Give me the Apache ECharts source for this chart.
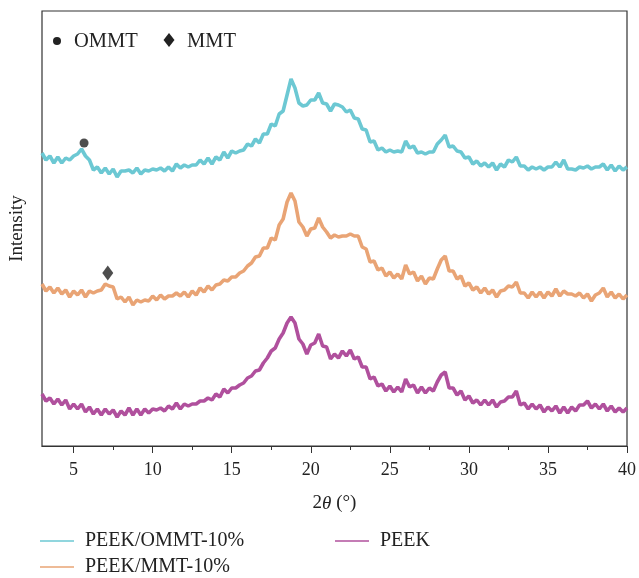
<!DOCTYPE html>
<html>
<head>
<meta charset="utf-8">
<script src="https://cdn.jsdelivr.net/npm/echarts@6/dist/echarts.min.js"></script>
<style>
  html, body { margin: 0; padding: 0; background: #fff; }
  #chart { width: 639px; height: 578px; }
</style>
</head>
<body>
<div id="chart"></div>
<script>
// 2-theta sampling grid (degrees)
const angleStart = 3;
const angleStep = 0.25;

// intensity (arbitrary units, offset stacked), one value per 0.25 deg from 3 to 40
const ommtValues = [
  293, 286, 290, 283, 289, 283, 288, 286, 290, 292, 297, 290,
  286, 276, 279, 273, 278, 272, 277, 269, 275, 275, 276, 273,
  278, 272, 276, 275, 277, 276, 278, 275, 279, 275, 282, 278,
  281, 279, 281, 281, 286, 282, 288, 282, 289, 286, 294, 288,
  295, 293, 295, 296, 302, 300, 307, 303, 312, 312, 322, 320,
  332, 335, 351, 367, 358, 343, 340, 341, 346, 346, 353, 343,
  342, 335, 342, 341, 339, 334, 336, 328, 327, 317, 316, 304,
  305, 296, 298, 294, 296, 294, 295, 294, 305, 298, 300, 293,
  294, 292, 294, 294, 302, 306, 311, 299, 300, 295, 294, 288,
  289, 282, 285, 280, 283, 279, 283, 276, 282, 279, 286, 284,
  289, 280, 280, 276, 279, 277, 279, 276, 279, 279, 284, 279,
  286, 277, 277, 276, 279, 278, 280, 277, 279, 279, 282, 276,
  281, 275, 280, 276, 279
];

const mmtValues = [
  162, 155, 159, 153, 158, 152, 156, 149, 155, 151, 156, 149,
  155, 153, 155, 156, 162, 160, 159, 147, 149, 144, 149, 141,
  146, 144, 146, 145, 150, 146, 151, 147, 150, 150, 153, 150,
  154, 149, 155, 151, 158, 154, 160, 156, 161, 162, 166, 165,
  169, 169, 173, 175, 180, 183, 189, 190, 198, 198, 208, 206,
  221, 227, 244, 253, 245, 224, 219, 210, 217, 218, 228, 219,
  214, 208, 211, 209, 210, 210, 212, 210, 210, 199, 197, 184,
  185, 176, 178, 170, 174, 168, 172, 167, 181, 172, 174, 165,
  170, 162, 168, 167, 177, 186, 190, 175, 175, 167, 170, 160,
  163, 156, 159, 153, 158, 152, 156, 149, 155, 156, 160, 159,
  164, 153, 153, 148, 154, 149, 154, 148, 154, 150, 157, 150,
  155, 152, 152, 150, 153, 148, 152, 145, 151, 153, 158, 149,
  154, 148, 152, 147, 151
];

const peekValues = [
  52, 45, 48, 42, 47, 41, 46, 37, 42, 37, 42, 34,
  39, 32, 37, 31, 37, 32, 36, 29, 35, 31, 38, 31,
  37, 31, 37, 33, 37, 36, 38, 35, 40, 37, 43, 37,
  42, 40, 42, 42, 45, 45, 48, 46, 52, 49, 57, 53,
  58, 58, 61, 63, 68, 70, 75, 76, 83, 88, 95, 98,
  107, 113, 123, 129, 123, 107, 102, 92, 101, 103, 112, 100,
  99, 87, 92, 88, 95, 90, 96, 87, 89, 79, 79, 67,
  69, 60, 62, 55, 60, 54, 59, 54, 67, 59, 61, 53,
  59, 53, 58, 55, 64, 71, 74, 58, 58, 51, 55, 46,
  50, 43, 46, 41, 46, 41, 46, 39, 44, 45, 49, 49,
  55, 41, 43, 37, 42, 37, 41, 34, 39, 35, 40, 33,
  39, 33, 39, 35, 41, 41, 45, 38, 42, 37, 42, 35,
  40, 34, 38, 34, 38
];

// peak markers [2theta, intensity]
const ommtMarker = [[5.66, 303]];
const mmtMarker = [[7.16, 173]];

const majorTicks = [5, 10, 15, 20, 25, 30, 35, 40];
const minorTicks = [7.5, 12.5, 17.5, 22.5, 27.5, 32.5, 37.5];

const seriesNames = ['PEEK/OMMT-10%', 'PEEK/MMT-10%', 'PEEK'];
const seriesColors = ['#6cc8d3', '#e9a475', '#b0509d'];

const toPairs = (vals) => vals.map((v, i) => [angleStart + i * angleStep, v]);

const serif = '"Liberation Serif", "DejaVu Serif", serif';
const ink = '#222';

const chart = echarts.init(document.getElementById('chart'));

const legendItem = (name, left, top) => ({
  data: [name], left: left, top: top, padding: 0,
  icon: 'rect', itemWidth: 34, itemHeight: 1.5,
  textStyle: { fontFamily: serif, fontSize: 20, color: ink, padding: [0, 0, 0, 6] }
});

const option = {
  animation: false,
  textStyle: { fontFamily: serif, color: ink },
  grid: {
    left: 39, right: 9, top: 11, bottom: 132,
    show: true, borderColor: '#333', borderWidth: 1.2
  },
  xAxis: [
    {
      type: 'value', min: 3, max: 40,
      name: '{n|2}{i|θ}{n| (°)}',
      nameLocation: 'middle', nameGap: 48,
      nameTextStyle: {
        rich: {
          n: { fontFamily: serif, fontSize: 19, color: ink },
          i: { fontFamily: serif, fontSize: 19, fontStyle: 'italic', color: ink }
        }
      },
      axisLine: { show: true, lineStyle: { color: '#333', width: 1.2 } },
      axisTick: { show: true, customValues: majorTicks, length: 7, lineStyle: { color: '#333' } },
      axisLabel: { customValues: majorTicks, margin: 15, fontFamily: serif, fontSize: 18, color: ink },
      splitLine: { show: false }
    },
    {
      type: 'value', min: 3, max: 40, position: 'bottom',
      axisLine: { show: false },
      axisTick: { show: true, customValues: minorTicks, length: 4, lineStyle: { color: '#333' } },
      axisLabel: { show: false },
      splitLine: { show: false }
    }
  ],
  yAxis: {
    type: 'value', min: 0, max: 435,
    name: 'Intensity', nameLocation: 'middle', nameGap: 15,
    nameTextStyle: { fontFamily: serif, fontSize: 19, color: ink },
    axisLine: { show: false },
    axisTick: { show: false },
    axisLabel: { show: false },
    splitLine: { show: false }
  },
  legend: [
    legendItem(seriesNames[0], 40, 531),
    legendItem(seriesNames[1], 40, 557),
    legendItem(seriesNames[2], 335, 531)
  ],
  graphic: [
    { type: 'circle', shape: { cx: 57, cy: 41, r: 4 }, style: { fill: ink } },
    { type: 'text', left: 74, top: 31, style: { text: 'OMMT', font: '20.5px ' + serif, fill: ink } },
    { type: 'polygon', shape: { points: [[169, 33], [174.5, 40], [169, 47], [163.5, 40]] }, style: { fill: ink } },
    { type: 'text', left: 187, top: 31, style: { text: 'MMT', font: '20.5px ' + serif, fill: ink } }
  ],
  series: [
    {
      name: seriesNames[0], type: 'line', data: toPairs(ommtValues),
      showSymbol: false, color: seriesColors[0], lineStyle: { width: 3.6 }
    },
    {
      name: seriesNames[1], type: 'line', data: toPairs(mmtValues),
      showSymbol: false, color: seriesColors[1], lineStyle: { width: 3.6 }
    },
    {
      name: seriesNames[2], type: 'line', data: toPairs(peekValues),
      showSymbol: false, color: seriesColors[2], lineStyle: { width: 3.6 }
    },
    {
      name: 'OMMT', type: 'scatter', data: ommtMarker,
      symbol: 'circle', symbolSize: 9, itemStyle: { color: ink }
    },
    {
      name: 'MMT', type: 'scatter', data: mmtMarker,
      symbol: 'diamond', symbolSize: [11, 15], itemStyle: { color: ink }
    }
  ]
};

chart.setOption(option);
</script>
</body>
</html>
